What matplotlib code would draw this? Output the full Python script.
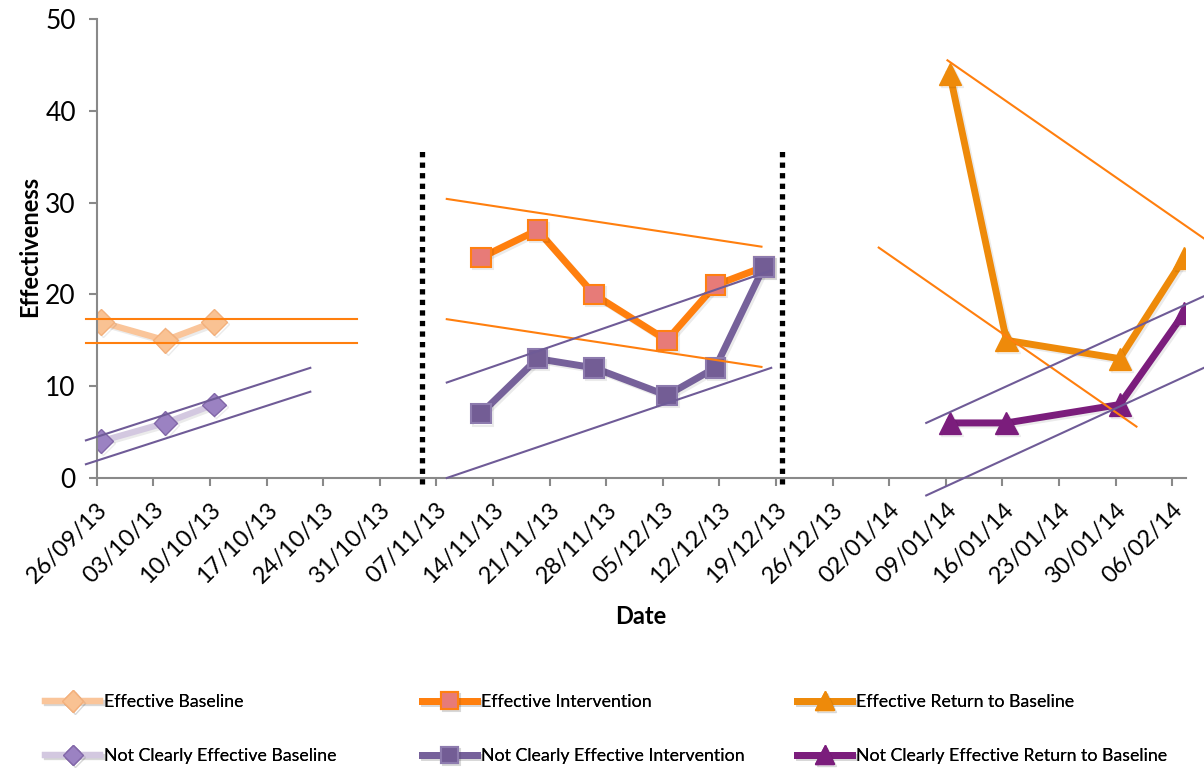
import matplotlib
matplotlib.use("Agg")
import matplotlib.pyplot as plt
import matplotlib.patheffects as pe
import pandas as pd

plt.rcParams['font.family'] = ['Lato', 'DejaVu Sans']

# weekly ticks on the date axis
tick_dates = ['26/09/13', '03/10/13', '10/10/13', '17/10/13', '24/10/13', '31/10/13',
              '07/11/13', '14/11/13', '21/11/13', '28/11/13', '05/12/13', '12/12/13',
              '19/12/13', '26/12/13', '02/01/14', '09/01/14', '16/01/14', '23/01/14',
              '30/01/14', '06/02/14']

# baseline phase
base_dates = ['26/09/13', '04/10/13', '10/10/13']
eff_base = [17, 15, 17]
nce_base = [4, 6, 8]

# intervention phase
int_dates = ['12/11/13', '19/11/13', '26/11/13', '05/12/13', '11/12/13', '17/12/13']
eff_int = [24, 27, 20, 15, 21, 23]
nce_int = [7, 13, 12, 9, 12, 23]

# return to baseline phase
ret_dates = ['09/01/14', '16/01/14', '30/01/14', '07/02/14']
eff_ret = [44, 15, 13, 24]
nce_ret = [6, 6, 8, 18]

# envelope lines (start/end date, start/end value)
eff_trends = [
    (('2013-09-24 16:00', '2013-10-28 05:00'), (17.3, 17.3)),
    (('2013-09-24 16:00', '2013-10-28 05:00'), (14.7, 14.7)),
    (('2013-11-08 07:00', '2013-12-17 05:00'), (30.4, 25.2)),
    (('2013-11-08 07:00', '2013-12-17 05:00'), (17.3, 12.1)),
    (('2014-01-09 05:00', '2014-02-09 22:00'), (45.5, 26.1)),
    (('2013-12-31 17:00', '2014-02-01 14:00'), (25.1, 5.6)),
]
nce_trends = [
    (('2013-09-24 16:00', '2013-10-22 10:00'), (4.1, 12.0)),
    (('2013-09-24 16:00', '2013-10-22 10:00'), (1.5, 9.4)),
    (('2013-11-08 07:00', '2013-12-18 10:00'), (10.4, 22.6)),
    (('2013-11-08 07:00', '2013-12-18 10:00'), (0.0, 12.0)),
    (('2014-01-06 14:00', '2014-02-09 22:00'), (6.0, 19.8)),
    (('2014-01-06 14:00', '2014-02-09 22:00'), (-1.9, 12.0)),
]

# phase change markers
phase_changes = ['2013-11-05 05:00', '2013-12-19 19:00']
phase_span = (-0.6, 36)


def to_dt(lst):
    # Excel puts the points in the middle of the day
    return pd.to_datetime(lst, dayfirst=True) + pd.Timedelta(hours=12)


W, H = 1204, 770
fig = plt.figure(figsize=(W / 100, H / 100), dpi=100)
ax = fig.add_axes([96.7 / W, 1 - 478 / H, (1186 - 96.7) / W, (478 - 19) / H])

# soft excel-like drop shadow
shadow = [pe.SimpleLineShadow(offset=(1.5, -1.5), shadow_color='#000000', alpha=0.08),
          pe.Normal()]

handles = {}

handles['eb'], = ax.plot(to_dt(base_dates), eff_base, color='#FAC59A', lw=4.5,
                         marker='D', ms=13, mfc='#F9C293', mec='#F3B07C', mew=1,
                         label='Effective Baseline', zorder=2)
handles['nb'], = ax.plot(to_dt(base_dates), nce_base, color='#D3C8E0', lw=4.5,
                         marker='D', ms=12, mfc='#9B82C2', mec='#8267A8', mew=1,
                         label='Not Clearly Effective Baseline', zorder=2)
handles['ei'], = ax.plot(to_dt(int_dates), eff_int, color='#FF7F0E', lw=5,
                         marker='s', ms=14, mfc='#E77B78', mec='#FF8012', mew=1.5,
                         label='Effective Intervention', zorder=2)
handles['ni'], = ax.plot(to_dt(int_dates), nce_int, color='#76619A', lw=5,
                         marker='s', ms=14, mfc='#735D95', mec='#8D7BAE', mew=1.5,
                         label='Not Clearly Effective Intervention', zorder=2.1)
handles['er'], = ax.plot(to_dt(ret_dates), eff_ret, color='#EE8A0A', lw=5,
                         marker='^', ms=16, mfc='#EE8A0A', mec='#EE8A0A',
                         label='Effective Return to Baseline', zorder=2)
handles['nr'], = ax.plot(to_dt(ret_dates), nce_ret, color='#7B1D7C', lw=5,
                         marker='^', ms=16, mfc='#7B1D7C', mec='#7B1D7C',
                         label='Not Clearly Effective Return to Baseline', zorder=2.1)
for h in handles.values():
    h.set_path_effects(shadow)

for (xs, ys) in eff_trends:
    ax.plot(pd.to_datetime(list(xs)), ys, color='#FF7F0E', lw=1.5, zorder=3, clip_on=False)
for (xs, ys) in nce_trends:
    ax.plot(pd.to_datetime(list(xs)), ys, color='#6F5B97', lw=1.5, zorder=3, clip_on=False)

for d in pd.to_datetime(phase_changes):
    ax.plot([d, d], phase_span, color='black', lw=3.8, ls=(0, (1, 1)),
            zorder=4, clip_on=False)

ax.set_xlim(pd.Timestamp('2013-09-26 00:00'), pd.Timestamp('2014-02-07 17:00'))
ax.set_ylim(0, 50)
ax.set_yticks(range(0, 51, 10))
ax.set_xticks(pd.to_datetime(tick_dates, dayfirst=True))
ax.set_xticklabels(tick_dates, rotation=45, ha='right', rotation_mode='anchor')

for s in ['top', 'right']:
    ax.spines[s].set_visible(False)
for s in ['left', 'bottom']:
    ax.spines[s].set_color('#898989')
    ax.spines[s].set_linewidth(1.5)
ax.tick_params(direction='out', length=6, width=1.5, color='#898989')
ax.tick_params(axis='y', labelsize=19, pad=9)
ax.tick_params(axis='x', labelsize=17, pad=9)

fig.text(30 / W, 1 - 246 / H, 'Effectiveness', rotation=90, ha='center', va='center',
         fontsize=17, fontweight='bold')
fig.text(641 / W, 1 - 617 / H, 'Date', ha='center', va='center',
         fontsize=17, fontweight='bold')

cols = [(['eb', 'nb'], 45), (['ei', 'ni'], 422), (['er', 'nr'], 797)]
for keys, xpx in cols:
    leg = fig.legend([handles[k] for k in keys], [handles[k].get_label() for k in keys],
                     loc='center left', bbox_to_anchor=(xpx / W, 1 - 729 / H),
                     frameon=False, fontsize=12.8, handlelength=3.1, handletextpad=0.2,
                     labelspacing=2.15, borderpad=0, borderaxespad=0, numpoints=1,
                     markerscale=0.85)
    fig.add_artist(leg)

fig.savefig('out.png', dpi=100)
